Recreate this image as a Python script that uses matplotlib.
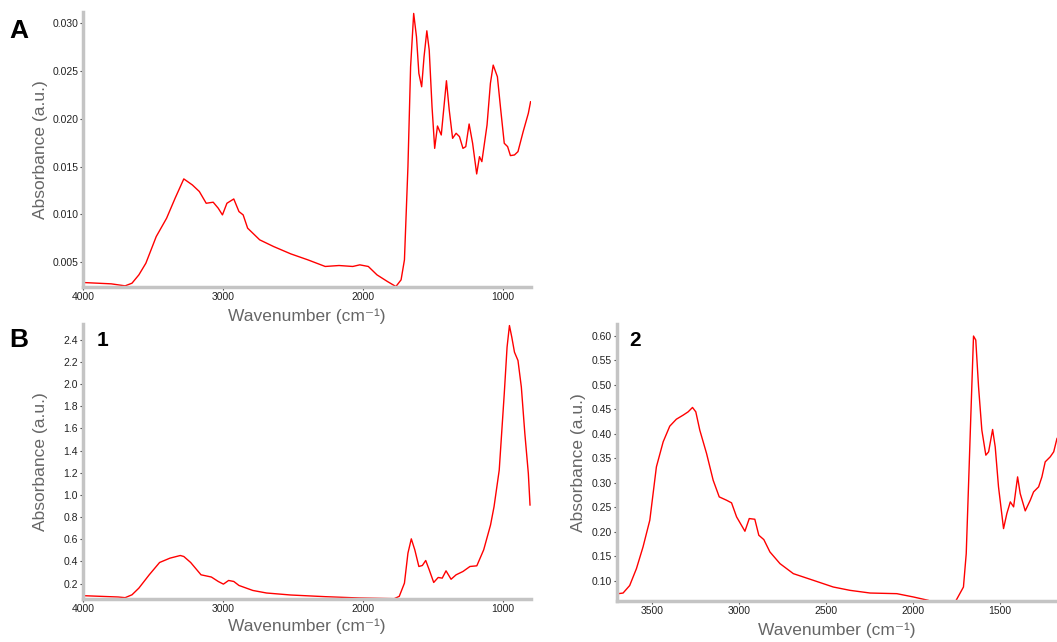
import numpy as np
import matplotlib
matplotlib.use("Agg")
import matplotlib.pyplot as plt

plt.rcParams['font.family'] = ['Liberation Sans', 'DejaVu Sans']

# panel A spectrum
wn_a = [4000, 3798, 3699, 3650, 3601, 3551, 3477, 3403, 3342, 3280, 3219, 3169, 3120, 3070,
        3034, 3004, 2972, 2923, 2886, 2856, 2824, 2738, 2639, 2516, 2393, 2270, 2171, 2073,
        2023, 1962, 1900, 1826, 1765, 1728, 1704, 1679, 1660, 1638, 1618, 1601, 1581, 1564,
        1544, 1527, 1507, 1488, 1468, 1441, 1404, 1384, 1360, 1335, 1311, 1286, 1266, 1242,
        1217, 1188, 1168, 1151, 1114, 1090, 1070, 1040, 1016, 991, 967, 947, 918, 893, 856,
        819, 803]
abs_a = [0.00287, 0.00273, 0.00252, 0.0028, 0.00367, 0.00489, 0.00768, 0.0096, 0.0117, 0.01372,
         0.01309, 0.0124, 0.01117, 0.01128, 0.01065, 0.00995, 0.01117, 0.01162, 0.0103, 0.00995,
         0.00856, 0.00734, 0.00664, 0.00587, 0.00524, 0.00455, 0.00465, 0.00455, 0.00472,
         0.00455, 0.00367, 0.00298, 0.00245, 0.00315, 0.00524, 0.015, 0.02546, 0.03105, 0.0286,
         0.02477, 0.02337, 0.02651, 0.02923, 0.02721, 0.02128, 0.01692, 0.01926, 0.01832, 0.024,
         0.02093, 0.01797, 0.0185, 0.01815, 0.01692, 0.0171, 0.01947, 0.01745, 0.01424, 0.01605,
         0.01553, 0.01937, 0.02372, 0.02564, 0.02442, 0.02093, 0.01745, 0.0171, 0.01616,
         0.01623, 0.01658, 0.01867, 0.02059, 0.0218]

# panel B1 spectrum
wn_b1 = [4000, 3749, 3699, 3650, 3601, 3527, 3453, 3379, 3305, 3280, 3231, 3157, 3083, 3034,
         2997, 2960, 2923, 2886, 2787, 2689, 2516, 2270, 2023, 1777, 1741, 1704, 1679, 1655,
         1630, 1601, 1576, 1552, 1527, 1495, 1463, 1434, 1407, 1371, 1335, 1286, 1236, 1187,
         1138, 1089, 1064, 1027, 991, 971, 954, 937, 918, 893, 869, 844, 819, 807]
abs_b1 = [0.092, 0.08, 0.074, 0.10, 0.16, 0.28, 0.391, 0.43, 0.454, 0.445, 0.391, 0.28, 0.26,
          0.22, 0.196, 0.229, 0.22, 0.184, 0.139, 0.116, 0.098, 0.083, 0.071, 0.065, 0.086,
          0.205, 0.475, 0.604, 0.505, 0.355, 0.364, 0.409, 0.325, 0.211, 0.256, 0.25, 0.316,
          0.24, 0.28, 0.31, 0.355, 0.361, 0.505, 0.729, 0.894, 1.223, 1.912, 2.331, 2.526,
          2.42, 2.286, 2.211, 1.972, 1.553, 1.193, 0.909]

# panel B2 spectrum
wn_b2 = [3704, 3669, 3631, 3592, 3554, 3515, 3477, 3438, 3400, 3362, 3323, 3294, 3269, 3250,
         3227, 3188, 3150, 3115, 3073, 3044, 3015, 2967, 2942, 2910, 2887, 2858, 2823, 2765,
         2688, 2573, 2458, 2362, 2246, 2092, 1996, 1910, 1830, 1756, 1727, 1708, 1692, 1679,
         1665, 1650, 1637, 1621, 1602, 1579, 1563, 1540, 1525, 1506, 1477, 1458, 1438, 1419,
         1396, 1381, 1352, 1323, 1304, 1275, 1256, 1237, 1208, 1188, 1169]
abs_b2 = [0.073, 0.0747, 0.090, 0.1246, 0.169, 0.2235, 0.3326, 0.3838, 0.4158, 0.430, 0.4383,
          0.4451, 0.454, 0.4451, 0.4076, 0.3599, 0.3053, 0.2712, 0.2644, 0.259, 0.2303, 0.201,
          0.2269, 0.2255, 0.1928, 0.1839, 0.1587, 0.1348, 0.1143, 0.1007, 0.087, 0.0802,
          0.0747, 0.0734, 0.0666, 0.0597, 0.045, 0.056, 0.0747, 0.087, 0.155, 0.2917, 0.4417,
          0.60, 0.5918, 0.4963, 0.4076, 0.3565, 0.3633, 0.409, 0.3735, 0.2917, 0.2064, 0.2371,
          0.261, 0.2508, 0.3121, 0.278, 0.2426, 0.2644, 0.2814, 0.2917, 0.3121, 0.3428, 0.3531,
          0.3633, 0.3906]

W, H = 1057, 642
fig = plt.figure(figsize=(W / 100, H / 100), dpi=100)


def box(l, t, r, b):
    return [l / W, 1 - b / H, (r - l) / W, (b - t) / H]


def style(ax, xlab_y, ylab_x):
    ax.patch.set_visible(False)
    for s in ['top', 'right']:
        ax.spines[s].set_visible(False)
    for s in ['left', 'bottom']:
        ax.spines[s].set_color('#c4c4c4')
        ax.spines[s].set_linewidth(2.5)
    ax.tick_params(length=2, width=0.8, color='#444444', labelsize=7.5,
                   labelcolor='#222222', pad=1.5)
    ax.set_xlabel('Wavenumber (cm\u207b\u00b9)', fontsize=12.5, color='#666666')
    ax.set_ylabel('Absorbance (a.u.)', fontsize=12.5, color='#666666')
    ax.xaxis.set_label_coords(0.5, xlab_y)
    ax.yaxis.set_label_coords(ylab_x, 0.5)


axA = fig.add_axes(box(83, 12, 531, 287))
axA.plot(wn_a, abs_a, color='#ff0000', lw=1)
axA.set_xlim(4000, 800)
axA.set_ylim(0.0024, 0.0312)
axA.set_xticks([4000, 3000, 2000, 1000])
axA.set_yticks([0.005, 0.010, 0.015, 0.020, 0.025, 0.030])
axA.set_yticklabels(['0.005', '0.010', '0.015', '0.020', '0.025', '0.030'])
style(axA, -0.08, -0.078)

axB1 = fig.add_axes(box(83, 324, 531, 599))
axB1.plot(wn_b1, abs_b1, color='#ff0000', lw=1)
axB1.set_xlim(4000, 800)
axB1.set_ylim(0.062, 2.54)
axB1.set_xticks([4000, 3000, 2000, 1000])
yt = [0.2, 0.4, 0.6, 0.8, 1.0, 1.2, 1.4, 1.6, 1.8, 2.0, 2.2, 2.4]
axB1.set_yticks(yt)
axB1.set_yticklabels(['%.1f' % v for v in yt])
style(axB1, -0.07, -0.078)

axB2 = fig.add_axes(box(617, 324, 1057, 601))
axB2.plot(wn_b2, abs_b2, color='#ff0000', lw=1)
axB2.set_xlim(3704, 1169)
axB2.set_ylim(0.0584, 0.6246)
axB2.set_xticks([3500, 3000, 2500, 2000, 1500])
yt2 = [0.10, 0.15, 0.20, 0.25, 0.30, 0.35, 0.40, 0.45, 0.50, 0.55, 0.60]
axB2.set_yticks(yt2)
axB2.set_yticklabels(['%.2f' % v for v in yt2])
style(axB2, -0.078, -0.07)

fig.text(9 / W, 1 - 31 / H, 'A', fontsize=19, fontweight='bold', va='center')
fig.text(9 / W, 1 - 340 / H, 'B', fontsize=19, fontweight='bold', va='center')
fig.text(97 / W, 1 - 341 / H, '1', fontsize=15, fontweight='bold', va='center')
fig.text(629 / W, 1 - 341 / H, '2', fontsize=15, fontweight='bold', va='center')

fig.savefig('out.png', dpi=100)
